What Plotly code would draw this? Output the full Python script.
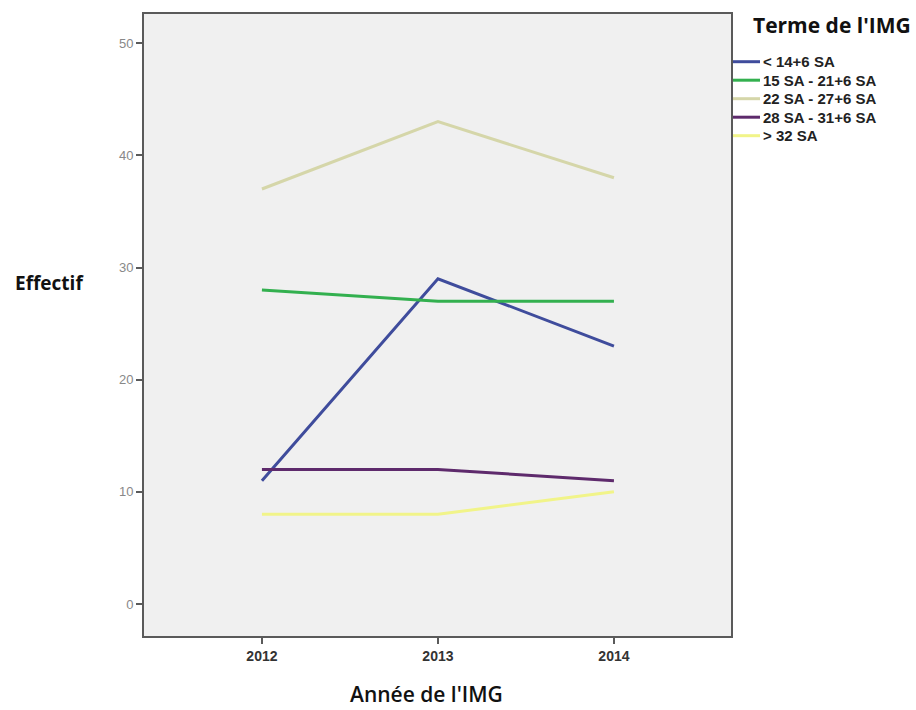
import plotly.graph_objects as go

years = [2012, 2013, 2014]
series_names = ["< 14+6 SA", "15 SA - 21+6 SA", "22 SA - 27+6 SA", "28 SA - 31+6 SA", "> 32 SA"]
v_lt14 = [11, 29, 23]
v_15_21 = [28, 27, 27]
v_22_27 = [37, 43, 38]
v_28_31 = [12, 12, 11]
v_gt32 = [8, 8, 10]
series_values = [v_lt14, v_15_21, v_22_27, v_28_31, v_gt32]
colors = ["#3f4c9c", "#33b04f", "#d5d6a9", "#5e2a6c", "#f1f489"]
ytick_vals = [0, 10, 20, 30, 40, 50]

W, H = 916, 710
# plot box in window pixels
BX0, BX1, BY0, BY1 = 144, 731, 14, 636
L, T, R, B = BX0, BY0, W - BX1, H - BY1
pw, ph = BX1 - BX0, BY1 - BY0

def px(x):
    return (x - BX0) / pw

def py(y):
    return (BY1 - y) / ph

fig = go.Figure()
for name, vals, col in zip(series_names, series_values, colors):
    fig.add_trace(go.Scatter(x=years, y=vals, mode="lines", name=name,
                             line=dict(color=col, width=3), showlegend=False))

axis_common = dict(showline=True, mirror=True, linecolor="#5a5a5a", linewidth=2,
                   ticks="outside", ticklen=6, tickcolor="#5a5a5a", tickwidth=1.5,
                   showgrid=False, zeroline=False)

fig.update_layout(
    width=W, height=H,
    margin=dict(l=L, r=R, t=T, b=B),
    paper_bgcolor="white", plot_bgcolor="#f0f0f0",
    xaxis=dict(range=[2011.33, 2014.665], tickvals=years, ticktext=[str(y) for y in years],
               tickfont=dict(family="Liberation Sans, Arial", size=14, color="#333", weight="bold"),
               **axis_common),
    yaxis=dict(range=[-2.85, 52.6], tickvals=ytick_vals,
               tickfont=dict(family="Liberation Sans, Arial", size=13, color="#888"),
               **axis_common),
)

annotations = [
    dict(text="Effectif", x=px(49), y=py(283), xref="paper", yref="paper", showarrow=False,
         xanchor="center", yanchor="middle",
         font=dict(family="Open Sans", size=19, color="#111", weight="bold")),
    dict(text="Année de l'IMG", x=px(426), y=py(694), xref="paper", yref="paper", showarrow=False,
         xanchor="center", yanchor="middle",
         font=dict(family="Open Sans", size=21, color="#111", weight=600)),
    dict(text="Terme de l'IMG", x=px(751), y=py(25), xref="paper", yref="paper", showarrow=False,
         xanchor="left", yanchor="middle",
         font=dict(family="Open Sans", size=21, color="#111", weight="bold")),
]
shapes = []
for i, (name, col) in enumerate(zip(series_names, colors)):
    yy = 61.7 + i * 18.5
    shapes.append(dict(type="line", xref="paper", yref="paper",
                       x0=px(733), x1=px(760), y0=py(yy), y1=py(yy),
                       line=dict(color=col, width=3)))
    annotations.append(dict(text=name, x=px(761), y=py(yy), xref="paper", yref="paper",
                            showarrow=False, xanchor="left", yanchor="middle",
                            font=dict(family="Liberation Sans, Arial", size=15, color="#222",
                                      weight="bold")))
fig.update_layout(annotations=annotations, shapes=shapes)

fig.write_html("out.html", config={"displayModeBar": False},
               post_script="document.body.style.margin='0px';")
